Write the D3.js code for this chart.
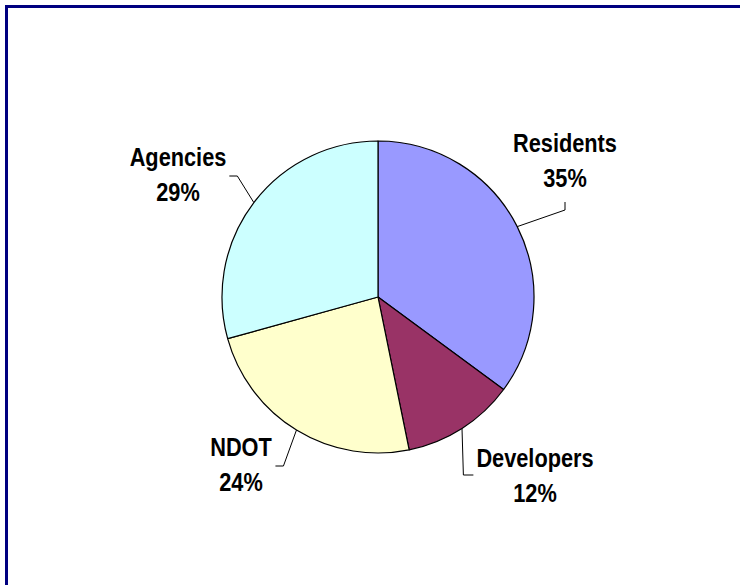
<!DOCTYPE html>
<html>
<head>
<meta charset="utf-8">
<script src="https://cdn.jsdelivr.net/npm/d3@7"></script>
<style>
  html, body { margin: 0; padding: 0; background: #fff; }
  svg { display: block; }
</style>
</head>
<body>
<svg id="chart" width="740" height="585"></svg>
<script>
// ---- data ----
const categories = ["Residents", "Developers", "NDOT", "Agencies"];
const shares = [35.1, 11.7, 23.9, 29.3];
const colors = ["#9999FF", "#993366", "#FFFFCC", "#CCFFFF"];

// ---- layout (label placement, not data) ----
const center = { x: 378, y: 297 };
const radius = 156;
const labelLayout = [
  { x: 565, y: 152, side: "bottom" },   // Residents
  { x: 535, y: 467, side: "left" },     // Developers
  { x: 241, y: 456, side: "right" },    // NDOT
  { x: 178, y: 166, side: "right" }     // Agencies
];
const lineGap = 35;
const fontSize = 25;
const squeeze = 0.87;

const svg = d3.select("#chart");

// frame
svg.append("rect")
  .attr("x", 6.5).attr("y", 6.5)
  .attr("width", 760).attr("height", 620)
  .attr("fill", "none")
  .attr("stroke", "#000080")
  .attr("stroke-width", 3);

const total = d3.sum(shares);
const pie = d3.pie().sort(null).value(d => d)(shares);
const arc = d3.arc().innerRadius(0).outerRadius(radius);

const g = svg.append("g").attr("transform", `translate(${center.x},${center.y})`);

g.selectAll("path.slice")
  .data(pie)
  .join("path")
  .attr("class", "slice")
  .attr("d", arc)
  .attr("fill", (d, i) => colors[i])
  .attr("stroke", "#000")
  .attr("stroke-width", 1.2)
  .attr("stroke-linejoin", "round");

// labels
const labels = svg.append("g");
pie.forEach((d, i) => {
  const L = labelLayout[i];
  const pct = Math.round(d.value / total * 100) + "%";
  const t = labels.append("text")
    .attr("transform", `translate(${L.x},${L.y}) scale(${squeeze},1)`)
    .attr("text-anchor", "middle")
    .attr("font-family", "'Liberation Sans', Arial, sans-serif")
    .attr("font-weight", "bold")
    .attr("font-size", fontSize)
    .attr("fill", "#000");
  t.append("tspan").attr("x", 0).attr("y", 0).text(categories[i]);
  t.append("tspan").attr("x", 0).attr("y", lineGap).text(pct);

  // leader line from slice edge at mid-angle
  const mid = (d.startAngle + d.endAngle) / 2;
  const ex = center.x + radius * Math.sin(mid);
  const ey = center.y - radius * Math.cos(mid);
  const bb = t.node().getBBox();
  const left = L.x + bb.x * squeeze;
  const right = L.x + (bb.x + bb.width) * squeeze;
  let pts;
  if (L.side === "bottom") {
    const y0 = L.y + lineGap + 15;
    pts = [[ex, ey], [L.x, y0 + 8], [L.x, y0]];
  } else if (L.side === "right") {
    const x0 = right + 3;
    const y0 = L.y + 10;
    pts = [[ex, ey], [x0 + 8, y0], [x0, y0]];
  } else {
    const x0 = left - 3;
    const y0 = L.y + 8;
    pts = [[ex, ey], [x0 - 10, y0], [x0, y0]];
  }
  labels.append("path")
    .attr("d", d3.line()(pts))
    .attr("fill", "none")
    .attr("stroke", "#000")
    .attr("stroke-width", 1);
});
</script>
</body>
</html>
